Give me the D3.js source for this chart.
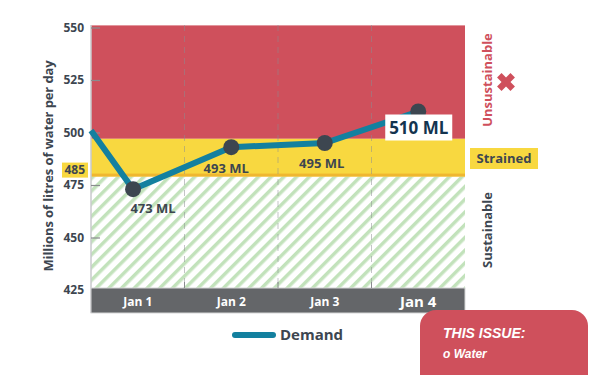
<!DOCTYPE html>
<html>
<head>
<meta charset="utf-8">
<script src="https://cdn.jsdelivr.net/npm/d3@7"></script>
<style>
  body { margin: 0; background: #fff; }
  svg text { font-family: "Open Sans", sans-serif; font-weight: 700; }
  svg text.issue { font-family: "Liberation Sans", Arial, sans-serif; font-style: italic; }
</style>
</head>
<body>
<div id="svg-container"></div>
<script>
// data
var days = ["Jan 1", "Jan 2", "Jan 3", "Jan 4"];
var demandDay = [0, 0.45, 1.5, 2.5, 3.5];   // position in days from start of Jan 1
var demandValue = [501, 473, 493, 495, 510];
var demandLabel = [null, "473 ML", "493 ML", "495 ML", "510 ML"];
var yTicks = [425, 450, 475, 500, 525, 550];
var zones = [
  { name: "Unsustainable", from: 497, to: 551 },
  { name: "Strained", from: 479, to: 497 },
  { name: "Sustainable", from: 424, to: 479 }
];
var thresholdTick = 485;

var svg_width = 600,
    svg_height = 375,
    plotLeft = 91, plotRight = 465, plotTop = 25, plotBottom = 288,
    red = "#cf505c", yellow = "#f8d840", orange = "#efb730",
    teal = "#13809f", dark = "#3d4650", grey = "#646669";

var svg = d3.select("#svg-container").append("svg")
  .attr("width", svg_width)
  .attr("height", svg_height);

var y = d3.scaleLinear().domain([425, 550]).range([290, 27.5]);
var xDay = d3.scaleLinear().domain([0, 4]).range([plotLeft, plotRight]);
var xBand = d3.scaleBand().domain(days).range([plotLeft, plotRight]);

// hatch pattern
var pat = svg.append("defs").append("pattern")
  .attr("id", "hatch")
  .attr("patternUnits", "userSpaceOnUse")
  .attr("width", 9).attr("height", 9)
  .attr("patternTransform", "rotate(45)");
pat.append("rect").attr("width", 9).attr("height", 9).attr("fill", "#fff");
pat.append("rect").attr("width", 3.5).attr("height", 9).attr("fill", "#c2e2bb");

// zones
var zoneFill = { "Unsustainable": red, "Strained": yellow, "Sustainable": "url(#hatch)" };
function zoneTop(d) { return Math.max(plotTop, y(d.to)); }
function zoneBottom(d) { return Math.min(plotBottom, y(d.from)); }
svg.selectAll("rect.zone")
  .data(zones).enter().append("rect")
  .attr("class", "zone")
  .attr("x", plotLeft)
  .attr("width", plotRight - plotLeft)
  .attr("y", zoneTop)
  .attr("height", function (d) { return zoneBottom(d) - zoneTop(d); })
  .attr("fill", function (d) { return zoneFill[d.name]; });

// orange line at bottom of strained
svg.append("rect")
  .attr("x", plotLeft).attr("width", plotRight - plotLeft)
  .attr("y", y(479) - 3).attr("height", 3)
  .attr("fill", orange);

// dashed separators
svg.selectAll("line.sep")
  .data(days.slice(1)).enter().append("line")
  .attr("class", "sep")
  .attr("x1", function (d) { return xBand(d); })
  .attr("x2", function (d) { return xBand(d); })
  .attr("y1", plotTop).attr("y2", plotBottom)
  .attr("stroke", "#8a8c8f").attr("stroke-opacity", 0.5)
  .attr("stroke-dasharray", "6,5");

// left axis line
svg.append("line")
  .attr("x1", plotLeft).attr("x2", plotLeft)
  .attr("y1", plotTop).attr("y2", 313)
  .attr("stroke", "#c9cacc").attr("stroke-width", 1.5);

// y ticks
var yAxis = svg.append("g")
  .attr("transform", "translate(" + plotLeft + ",0)")
  .call(d3.axisRight(y).tickValues(yTicks).tickSize(9).tickFormat(""));
yAxis.select(".domain").remove();
yAxis.selectAll("line").attr("stroke", "#8a8c8f").attr("stroke-width", 1.2);

svg.selectAll("text.ytick")
  .data(yTicks).enter().append("text")
  .attr("class", "ytick")
  .attr("x", 84)
  .attr("y", function (d) { return y(d) + 4; })
  .attr("text-anchor", "end")
  .attr("font-size", 12)
  .attr("fill", dark)
  .text(function (d) { return d; });

// 485 highlighted tick
svg.append("rect")
  .attr("x", 62).attr("y", y(479) - 14)
  .attr("width", 26).attr("height", 15)
  .attr("fill", yellow);
svg.append("text")
  .attr("x", 85).attr("y", y(479) - 3)
  .attr("text-anchor", "end")
  .attr("font-size", 12).attr("fill", dark)
  .text(thresholdTick);

// y label
svg.append("text")
  .attr("transform", "translate(53,166) rotate(-90)")
  .attr("text-anchor", "middle")
  .attr("font-size", 13)
  .attr("letter-spacing", -0.1)
  .attr("fill", dark)
  .text("Millions of litres of water per day");

// x band
svg.append("rect")
  .attr("x", plotLeft).attr("y", plotBottom)
  .attr("width", plotRight - plotLeft).attr("height", 25)
  .attr("fill", grey)
  .attr("stroke", "#d5d6d7").attr("stroke-width", 1);
svg.selectAll("line.btick")
  .data(days.slice(1)).enter().append("line")
  .attr("class", "btick")
  .attr("x1", function (d) { return xBand(d); })
  .attr("x2", function (d) { return xBand(d); })
  .attr("y1", plotBottom - 6).attr("y2", plotBottom)
  .attr("stroke", "#8a8c8f");
svg.selectAll("text.day")
  .data(days).enter().append("text")
  .attr("class", "day")
  .attr("x", function (d) { return xBand(d) + xBand.bandwidth() / 2; })
  .attr("y", function (d, i) { return i == 3 ? 307 : 306; })
  .attr("text-anchor", "middle")
  .attr("font-size", function (d, i) { return i == 3 ? 15 : 12; })
  .attr("fill", "#fff")
  .text(function (d) { return d; });

// demand line
var pts = demandDay.map(function (d, i) { return { d: d, v: demandValue[i], label: demandLabel[i] }; });
svg.append("path")
  .datum(pts)
  .attr("d", d3.line().x(function (d) { return xDay(d.d); }).y(function (d) { return y(d.v); }))
  .attr("fill", "none")
  .attr("stroke", teal)
  .attr("stroke-width", 6)
  .attr("stroke-linejoin", "miter");

svg.selectAll("circle.pt")
  .data(pts.slice(1)).enter().append("circle")
  .attr("class", "pt")
  .attr("cx", function (d) { return xDay(d.d); })
  .attr("cy", function (d) { return y(d.v); })
  .attr("r", 8)
  .attr("fill", dark);

// value labels
var labelPos = [null, [20, 24], [-5, 26], [-3, 25]];
svg.selectAll("text.val")
  .data(pts.slice(1, 4)).enter().append("text")
  .attr("class", "val")
  .attr("x", function (d, i) { return xDay(d.d) + labelPos[i + 1][0]; })
  .attr("y", function (d, i) { return y(d.v) + labelPos[i + 1][1]; })
  .attr("text-anchor", "middle")
  .attr("font-size", 13)
  .attr("fill", dark)
  .text(function (d) { return d.label; });

var last = pts[4];
svg.append("rect")
  .attr("x", xDay(last.d) - 33).attr("y", y(last.v) + 3)
  .attr("width", 67).attr("height", 26)
  .attr("fill", "#fff");
svg.append("text")
  .attr("x", xDay(last.d) + 0.5).attr("y", y(last.v) + 22)
  .attr("text-anchor", "middle")
  .attr("font-size", 17)
  .attr("fill", "#13344f")
  .text(last.label);

// zone labels on the right
svg.append("text")
  .attr("transform", "translate(492,80) rotate(-90)")
  .attr("text-anchor", "middle")
  .attr("font-size", 13).attr("fill", red)
  .text(zones[0].name);
svg.append("path")
  .attr("transform", "translate(506,82) rotate(45)")
  .attr("d", d3.symbol(d3.symbolCross, 200)())
  .attr("fill", red);
svg.append("rect")
  .attr("x", 470).attr("y", 148)
  .attr("width", 68).attr("height", 21)
  .attr("fill", yellow);
svg.append("text")
  .attr("x", 504).attr("y", 163)
  .attr("text-anchor", "middle")
  .attr("font-size", 13).attr("fill", dark)
  .text(zones[1].name);
svg.append("text")
  .attr("transform", "translate(492,230) rotate(-90)")
  .attr("text-anchor", "middle")
  .attr("font-size", 13).attr("fill", dark)
  .text(zones[2].name);

// legend
svg.append("line")
  .attr("x1", 235).attr("x2", 273)
  .attr("y1", 335).attr("y2", 335)
  .attr("stroke", teal).attr("stroke-width", 6)
  .attr("stroke-linecap", "round");
svg.append("text")
  .attr("x", 280).attr("y", 340)
  .attr("font-size", 15).attr("fill", dark)
  .text("Demand");

// issue box
svg.append("rect")
  .attr("x", 420).attr("y", 310)
  .attr("width", 168).attr("height", 90)
  .attr("rx", 16)
  .attr("fill", red);
svg.append("text")
  .attr("class", "issue")
  .attr("x", 443).attr("y", 338)
  .attr("font-size", 14).attr("fill", "#fff")
  .text("THIS ISSUE:");
svg.append("text")
  .attr("class", "issue")
  .attr("x", 443).attr("y", 358)
  .attr("font-size", 12).attr("fill", "#fff")
  .text("o Water");
</script>
</body>
</html>
